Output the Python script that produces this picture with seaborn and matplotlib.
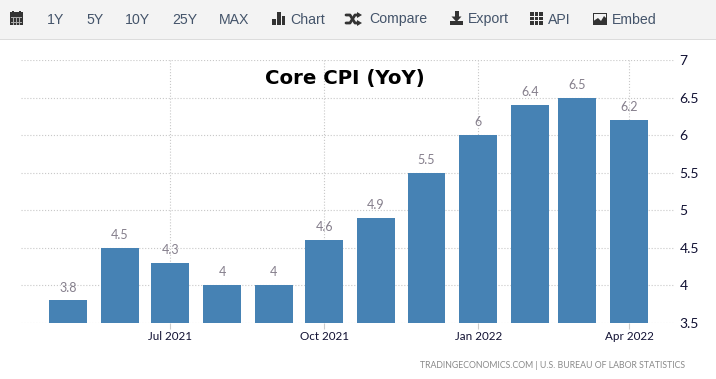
import matplotlib
matplotlib.use('Agg')
import matplotlib.pyplot as plt
import matplotlib.dates as mdates
from matplotlib.patches import Rectangle, Polygon
import seaborn as sns
import pandas as pd

months = ['May 2021', 'Jun 2021', 'Jul 2021', 'Aug 2021', 'Sep 2021', 'Oct 2021',
          'Nov 2021', 'Dec 2021', 'Jan 2022', 'Feb 2022', 'Mar 2022', 'Apr 2022']
core_cpi = [3.8, 4.5, 4.3, 4, 4, 4.6, 4.9, 5.5, 6, 6.4, 6.5, 6.2]
bar_labels = ['3.8', '4.5', '4.3', '4', '4', '4.6', '4.9', '5.5', '6', '6.4', '6.5', '6.2']
shown_months = ['Jul 2021', 'Oct 2021', 'Jan 2022', 'Apr 2022']
y_ticks = [3.5, 4, 4.5, 5, 5.5, 6, 6.5, 7]
y_tick_labels = ['3.5', '4', '4.5', '5', '5.5', '6', '6.5', '7']
range_buttons = ['1Y', '5Y', '10Y', '25Y', 'MAX']
menu_items = ['Chart', 'Compare', 'Export', 'API', 'Embed']

W, H = 716, 379
sns.set_style('white')
plt.rcParams['font.family'] = ['Lato', 'DejaVu Sans']

fig = plt.figure(figsize=(W / 100, H / 100), dpi=100, facecolor='white')
ax = fig.add_axes([21 / W, 1 - 323 / H, (674 - 21) / W, (323 - 60) / H])

# real time axis, so February's shorter gap shows up like in the original
day_nums = mdates.date2num(pd.to_datetime(months, format='%b %Y'))
df = pd.DataFrame({'day': day_nums, 'value': core_cpi})
sns.barplot(data=df, x='day', y='value', native_scale=True, color='#4682b4', saturation=1,
            width=0.8, linewidth=0, edgecolor='none', ax=ax, zorder=3)
ax.bar_label(ax.containers[0], labels=bar_labels, padding=5, color='#857f8c', fontsize=9)

ax.set_xlim(day_nums[0] - 28.07, day_nums[0] + 361.9)
ax.set_ylim(3.5, 7)
ax.set_xlabel('')
ax.set_ylabel('')
for s in ax.spines.values():
    s.set_visible(False)

ax.set_xticks([day_nums[months.index(m)] for m in shown_months])
ax.set_xticklabels(shown_months, fontsize=8.4, color='#111133')
ax.tick_params(axis='x', length=4, width=0.8, color='#cccccc', pad=2, bottom=True)
ax.yaxis.tick_right()
ax.set_yticks(y_ticks)
ax.set_yticklabels(y_tick_labels, fontsize=10, color='#111133')
ax.tick_params(axis='y', length=0, pad=4)
ax.grid(True, color='#c8c8c8', linestyle=':', linewidth=0.8, zorder=0)
ax.set_axisbelow(True)

# toolbar and other page furniture, in pixel coordinates
ov = fig.add_axes([0, 0, 1, 1], zorder=5)
ov.set_xlim(0, W)
ov.set_ylim(H, 0)
ov.axis('off')
ov.patch.set_alpha(0)

ov.add_patch(Rectangle((0, 0), W, 39, color='#f3f3f3', lw=0))
ov.add_patch(Rectangle((0, 39), W, 1, color='#dcdcdc', lw=0))

ui = ['Liberation Sans', 'DejaVu Sans']
dark = '#333333'
for label, x in zip(range_buttons, [47, 86, 125, 172, 219]):
    ov.text(x, 19.5, label, family=ui, fontsize=10.2, color='#44546a', va='center', ha='left')
for label, x in zip(menu_items, [290, 369, 468, 548, 612]):
    ov.text(x, 19.5, label, family=ui, fontsize=10.2, color='#44546a', va='center', ha='left')

# calendar icon
ov.add_patch(Rectangle((9.5, 12), 13, 13, color=dark, lw=0))
ov.add_patch(Rectangle((12, 11), 1.5, 2, color=dark, lw=0))
ov.add_patch(Rectangle((19, 11), 1.5, 2, color=dark, lw=0))
for yy in [17, 19.7, 22.3]:
    ov.add_patch(Rectangle((10.5, yy), 11, 0.6, color='#aaaaaa', lw=0))
for xx in [13, 16, 19]:
    ov.add_patch(Rectangle((xx, 16.5), 0.6, 8, color='#aaaaaa', lw=0))
# bars icon
for x0, x1, top in [(272, 275.5, 19), (277, 280.5, 12), (281.5, 285, 16)]:
    ov.add_patch(Rectangle((x0, top), x1 - x0, 25 - top, color=dark, lw=0))
# shuffle icon
ov.plot([346, 350, 355, 358], [15, 15, 23, 23], color=dark, lw=2)
ov.plot([346, 350, 355, 358], [23, 23, 15, 15], color=dark, lw=2)
ov.add_patch(Polygon([(357, 12), (362, 15), (357, 18)], color=dark, lw=0))
ov.add_patch(Polygon([(357, 20), (362, 23), (357, 26)], color=dark, lw=0))
# export icon
ov.add_patch(Rectangle((449.5, 21), 13.5, 4, color=dark, lw=0))
ov.add_patch(Rectangle((454.5, 11), 4, 6, color=dark, lw=0))
ov.add_patch(Polygon([(451.5, 16.5), (461.5, 16.5), (456.5, 22)], color=dark, lw=0))
# grid icon
for i in range(3):
    for j in range(3):
        ov.add_patch(Rectangle((530 + i * 4.7, 12 + j * 4.5), 3.6, 3.6, color=dark, lw=0))
# picture icon
ov.add_patch(Rectangle((592.5, 12.5), 14.5, 12.5, color=dark, lw=0))
ov.add_patch(Rectangle((593.5, 13.5), 12.5, 8, color='#f3f3f3', lw=0))
ov.add_patch(Polygon([(593.5, 24), (593.5, 21), (598, 18), (601, 21), (604, 16), (606, 18), (606, 24)],
                     color=dark, lw=0))

ov.text(344.5, 78.5, 'Core CPI (YoY)', family=['DejaVu Sans'], fontsize=14.2, fontweight='bold',
        color='black', ha='center', va='center')
ov.text(685, 365, 'TRADINGECONOMICS.COM | U.S. BUREAU OF LABOR STATISTICS', family=['Lato', 'DejaVu Sans'],
        fontsize=6.3, color='#8a8a8a', ha='right', va='center')

fig.savefig('out.png', dpi=100)
